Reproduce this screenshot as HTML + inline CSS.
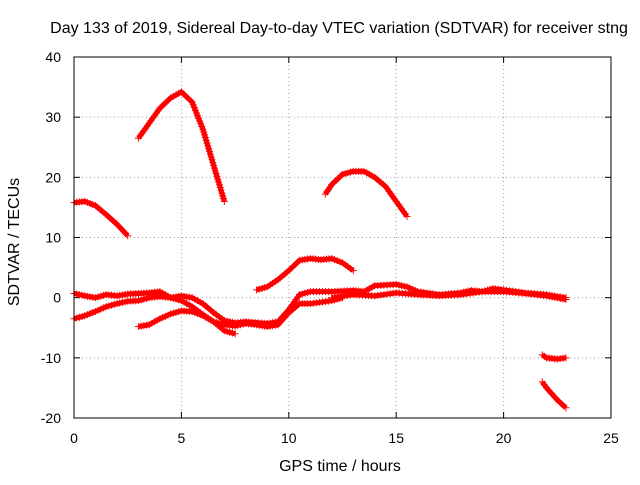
<!DOCTYPE html>
<html><head><meta charset="utf-8"><style>
body{margin:0;background:#fff}
svg text{font-family:"Liberation Sans",sans-serif;font-size:14px;fill:#000}
</style></head><body>
<svg id="chart" width="640" height="480">
<text x="339" y="33" text-anchor="middle" style="font-size:16px">Day 133 of 2019, Sidereal Day-to-day VTEC variation (SDTVAR) for receiver stng</text>
<text x="340" y="471" text-anchor="middle" style="font-size:16px">GPS time / hours</text>
<text transform="translate(19,242) rotate(-90)" text-anchor="middle" style="font-size:16px">SDTVAR / TECUs</text>
<g id="grid"></g><g id="series"></g>
<rect x="74" y="57" width="537" height="361" fill="none" stroke="#000"/>
</svg>
<script>
const xTicks=[0,5,10,15,20,25];
const yTicks=[-20,-10,0,10,20,30,40];
const s1=[[0,15.8],[0.5,16],[1,15.3],[1.5,13.8],[2,12.2],[2.5,10.3]];
const s2=[[3,26.5],[3.5,29],[4,31.5],[4.5,33.2],[5,34.2],[5.5,32.5],[6,28],[6.5,22],[7,16]];
const s3=[[11.7,17.2],[12,18.8],[12.5,20.5],[13,21],[13.5,21],[14,20],[14.5,18.5],[15,16],[15.5,13.5]];
const s4=[[8.5,1.3],[9,1.8],[9.5,3],[10,4.5],[10.5,6.2],[11,6.5],[11.5,6.3],[12,6.5],[12.5,5.8],[13,4.5]];
const s5=[[3,-4.8],[3.5,-4.5],[4,-3.5],[4.5,-2.7],[5,-2.2],[5.5,-2.3],[6,-3],[6.5,-4],[7,-4.5],[7.5,-4.7],[8,-4.3],[8.5,-4.5],[9,-4.8],[9.5,-4.5],[10,-2.5],[10.5,-1],[11,-1],[12,-0.5],[12.5,0]];
const s6=[[0,-3.5],[0.5,-3],[1,-2.3],[1.5,-1.5],[2,-1],[2.5,-0.6],[3,-0.5],[3.5,0],[4,0.2],[4.5,0],[5,-0.5],[5.5,-1.5],[6,-2.8],[6.5,-4],[7,-5.5],[7.5,-6]];
const s7=[[0,0.7],[0.5,0.3],[1,0],[1.5,0.5],[2,0.3],[2.5,0.6],[3,0.7],[3.5,0.8],[4,1],[4.5,0],[5,0.3],[5.5,0],[6,-1],[6.5,-2.5],[7,-3.8],[7.5,-4.2],[8,-4],[9,-4.3],[9.5,-4],[10,-2],[10.5,0.5],[11,1],[12,1],[13,1.2],[13.5,1],[14,2],[15,2.2],[15.5,1.8],[16,1],[17,0.5],[18,0.8],[18.5,1.2],[19,1],[19.5,1.5],[20,1.3],[21,0.8],[22,0.5],[22.5,0.2],[22.9,0]];
const s8=[[12,0],[13,0.5],[14,0.3],[15,0.8],[16,0.5],[17,0.3],[18,0.5],[19,1],[20,1],[21,0.7],[22,0.3],[22.9,-0.3]];
const s9=[[21.8,-9.5],[22,-10],[22.5,-10.2],[22.9,-10]];
const s10=[[21.8,-14],[22,-15],[22.5,-17],[22.9,-18.3]];
const seriesList=[s1,s2,s3,s4,s5,s6,s7,s8,s9,s10];
const X=v=>74+v/25*537, Y=v=>418-(v+20)/60*361;
const NS="http://www.w3.org/2000/svg";
const grid=document.getElementById('grid'), sg=document.getElementById('series');
function mk(t,a,p){const e=document.createElementNS(NS,t);for(const k in a)e.setAttribute(k,a[k]);p.appendChild(e);return e;}
xTicks.forEach(t=>{
 if(t>0&&t<25){const l=mk('line',{x1:X(t),x2:X(t),y1:57,y2:418,stroke:'#a0a0a0','stroke-dasharray':'1,3'},grid);
 
 }
 mk('line',{x1:X(t),x2:X(t),y1:418,y2:412,stroke:'#000'},grid);
 mk('line',{x1:X(t),x2:X(t),y1:57,y2:63,stroke:'#000'},grid);
 const tx=mk('text',{x:X(t),y:443,'text-anchor':'middle'},grid);tx.textContent=t;
 
 
});
yTicks.forEach(t=>{
 if(t>-20&&t<40){const l=mk('line',{x1:74,x2:611,y1:Y(t),y2:Y(t),stroke:'#a0a0a0','stroke-dasharray':'1,3'},grid);
 
 }
 mk('line',{x1:74,x2:80,y1:Y(t),y2:Y(t),stroke:'#000'},grid);
 mk('line',{x1:611,x2:605,y1:Y(t),y2:Y(t),stroke:'#000'},grid);
 const tx=mk('text',{x:61,y:Y(t)+5,'text-anchor':'end'},grid);tx.textContent=t;
 
 
});
seriesList.forEach((s,i)=>{
 const g=mk('g',{},sg);
 
 
 mk('polyline',{points:s.map(p=>X(p[0])+','+Y(p[1])).join(' '),fill:'none',stroke:'#f00','stroke-width':5,'stroke-linejoin':'round'},g);
 let d='';
 for(let k=0;k<s.length-1;k++){
  const x0=X(s[k][0]),y0=Y(s[k][1]),x1=X(s[k+1][0]),y1=Y(s[k+1][1]);
  const n=Math.max(1,Math.round(Math.hypot(x1-x0,y1-y0)/3));
  for(let j=0;j<=n;j++){const x=x0+(x1-x0)*j/n,y=y0+(y1-y0)*j/n;d+=`M${x-3.5},${y}h7M${x},${y-3.5}v7`;}
 }
 mk('path',{d:d,stroke:'#f00','stroke-width':1},g);
});
</script>
</body></html>
